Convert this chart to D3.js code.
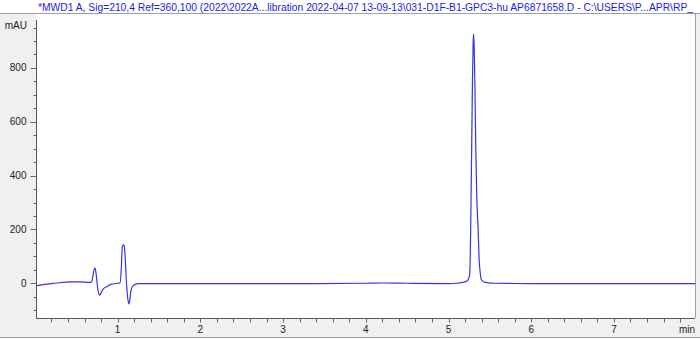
<!DOCTYPE html>
<html>
<head>
<meta charset="utf-8">
<script src="https://cdn.jsdelivr.net/npm/d3@7"></script>
<style>
  body { margin: 0; background: #ffffff; }
  svg { display: block; font-family: "Liberation Sans", Arial, sans-serif; }
</style>
</head>
<body>
<div id="chart"></div>
<script>
// chromatogram trace (minutes, mAU)
var timeMin = [0.013, 0.10, 0.20, 0.30, 0.42, 0.55, 0.66, 0.686, 0.70, 0.715, 0.726, 0.738, 0.75, 0.765, 0.786, 0.80, 0.83, 0.867, 0.92, 1.007, 1.03,
  1.045, 1.055, 1.065, 1.080, 1.092, 1.105, 1.12, 1.135, 1.148, 1.16, 1.18, 1.21, 1.26, 1.6, 2.2, 2.8, 3.4, 4.0, 4.2, 4.5, 5.0, 5.10,
  5.20, 5.235, 5.255, 5.263, 5.270, 5.280, 5.290, 5.298, 5.304, 5.311, 5.320, 5.330, 5.342, 5.358, 5.37, 5.385, 5.40, 5.43, 5.47, 5.55,
  6.0, 6.5, 7.0, 7.5, 7.98];
var absorbance = [-9, -5, -1, 2, 5, 5, 3, 6, 25, 50, 56, 40, 5, -30, -44, -35, -20, -13, -4, 0, 2,
  60, 130, 143, 140, 90, 10, -50, -77, -60, -30, -12, -4, -1, -1, -1, -1, -1, 0, 1, 0, -1, 0,
  5, 12, 30, 100, 250, 500, 760, 895, 926, 875, 715, 500, 320, 200, 90, 35, 12, 5, 2, 0,
  -1, -1, -1, -1, -1];

var yMajor = [0, 200, 400, 600, 800];
var xMajor = [1, 2, 3, 4, 5, 6, 7];
var titleText = "*MWD1 A, Sig=210,4 Ref=360,100 (2022\\2022A...libration 2022-04-07 13-09-13\\031-D1F-B1-GPC3-hu AP6871658.D - C:\\USERS\\P...APR\\RP_";

var W = 700, H = 339;
var plot = { left: 36, right: 695, top: 20, bottom: 318 };

var svg = d3.select("#chart").append("svg")
  .attr("width", W)
  .attr("height", H);

// grey window background, white title strip and plot area
svg.append("rect").attr("width", W).attr("height", H).attr("fill", "#f0f0f0");
svg.append("rect").attr("width", W).attr("height", 14).attr("fill", "#ffffff");
svg.append("line").attr("x1", 0).attr("x2", W).attr("y1", 13.5).attr("y2", 13.5).attr("stroke", "#a0a0a0");
svg.append("line").attr("x1", 0).attr("x2", W).attr("y1", 337.5).attr("y2", 337.5).attr("stroke", "#a0a0a0");
svg.append("rect")
  .attr("x", plot.left).attr("y", 14)
  .attr("width", plot.right - plot.left).attr("height", plot.bottom - 14)
  .attr("fill", "#ffffff");
svg.append("line").attr("x1", plot.right + 0.5).attr("x2", plot.right + 0.5)
  .attr("y1", 13.5).attr("y2", plot.bottom).attr("stroke", "#a0a0a0");

// title
svg.append("text")
  .text(titleText)
  .attr("x", 38).attr("y", 10.5)
  .attr("textLength", 655)
  .attr("lengthAdjust", "spacingAndGlyphs")
  .style("font-size", "10px")
  .style("fill", "#1a1aee");

var x = d3.scaleLinear().domain([0.013, 7.98]).range([plot.left, plot.right]);
var y = d3.scaleLinear().domain([-129, 978]).range([plot.bottom, plot.top]);

// y axis: major every 200, minor every 50
var yAxis = svg.append("g").attr("transform", "translate(" + (plot.left + 0.5) + ",0)");
yAxis.append("line").attr("y1", plot.top).attr("y2", plot.bottom + 0.5).attr("stroke", "#555");
yAxis.selectAll(".ymin").data(d3.range(-100, 951, 50)).enter().append("line")
  .attr("x1", function(d) { return yMajor.indexOf(d) >= 0 ? -6 : -3; })
  .attr("x2", 0)
  .attr("y1", function(d) { return Math.round(y(d)) + 0.5; })
  .attr("y2", function(d) { return Math.round(y(d)) + 0.5; })
  .attr("stroke", "#666");
yAxis.selectAll(".ylab").data(yMajor).enter().append("text")
  .text(function(d) { return d; })
  .attr("x", -10)
  .attr("y", function(d) { return y(d) + 3.5; })
  .style("text-anchor", "end")
  .style("font-size", "10px")
  .style("fill", "#222");
svg.append("text").text("mAU")
  .attr("x", 27).attr("y", 28.5)
  .style("text-anchor", "end")
  .style("font-size", "10px")
  .style("fill", "#222");

// x axis: major every minute, minor every 0.2
var xAxis = svg.append("g").attr("transform", "translate(0," + (plot.bottom + 0.5) + ")");
xAxis.append("line").attr("x1", plot.left).attr("x2", plot.right).attr("stroke", "#555");
xAxis.selectAll(".xmin").data(d3.range(1, 40).map(function(i) { return i / 5; })).enter().append("line")
  .attr("x1", function(d) { return Math.round(x(d)) + 0.5; })
  .attr("x2", function(d) { return Math.round(x(d)) + 0.5; })
  .attr("y1", 0).attr("y2", 4)
  .attr("stroke", "#666");
xAxis.selectAll(".xlab").data(xMajor).enter().append("text")
  .text(function(d) { return d; })
  .attr("x", function(d) { return x(d); })
  .attr("y", 14.5)
  .style("text-anchor", "middle")
  .style("font-size", "10px")
  .style("fill", "#222");
svg.append("text").text("min")
  .attr("x", 695).attr("y", 333)
  .style("text-anchor", "end")
  .style("font-size", "10px")
  .style("fill", "#222");

// signal trace
svg.append("clipPath").attr("id", "clip").append("rect")
  .attr("x", plot.left + 1).attr("y", plot.top - 6)
  .attr("width", plot.right - plot.left - 1).attr("height", plot.bottom - plot.top + 5);

var line = d3.line()
  .x(function(d) { return x(d[0]); })
  .y(function(d) { return y(d[1]); })
  .curve(d3.curveMonotoneX);

svg.append("path")
  .datum(d3.zip(timeMin, absorbance))
  .attr("clip-path", "url(#clip)")
  .attr("d", line)
  .attr("fill", "none")
  .attr("stroke", "#3434e8")
  .attr("stroke-width", 1.2);
</script>
</body>
</html>
